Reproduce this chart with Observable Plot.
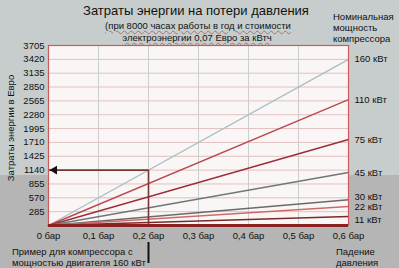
<!DOCTYPE html>
<html><head><meta charset="utf-8">
<script src="https://cdn.jsdelivr.net/npm/d3@7"></script>
<script src="https://cdn.jsdelivr.net/npm/@observablehq/plot@0.6"></script>
<style>
html,body{margin:0;padding:0;}
body{width:399px;height:268px;overflow:hidden;font-family:"Liberation Sans",Arial,sans-serif;}
#wrap{position:relative;width:399px;height:268px;background:linear-gradient(#c6cdcc 0,#c6cdcc 175px,#b5b5b5 175px);}
#wrap svg{position:absolute;left:0;top:0;}
.t{position:absolute;color:#111;white-space:nowrap;font-size:9.5px;line-height:11px;}
.w{text-decoration:underline wavy #b07070;text-decoration-thickness:1px;text-underline-offset:1px;}
</style>
</head><body>
<div id="wrap">
  <div class="t" style="left:0;width:392px;top:4px;text-align:center;font-size:13px;line-height:14px;">Затраты энергии на потери давления</div>
  <div class="t w" style="left:0;width:396px;top:20px;text-align:center;">(при 8000 часах работы в год и стоимости</div>
  <div class="t w" style="left:0;width:394px;top:32px;text-align:center;">электроэнергии 0,07 Евро за кВтч</div>
  <div class="t" style="left:333px;top:11px;">Номинальная<br>мощность<br>компрессора</div>
  <div class="t" style="left:10px;top:128px;transform:translate(-50%,-50%) rotate(-90deg);">Затраты энергии в Евро</div>
  <div class="t" style="left:12px;top:246px;">Пример для компрессора с<br>мощностью двигателя 160 кВт</div>
  <div class="t" style="left:336px;top:246px;">Падение<br>давления</div>
</div>
<script>
// Data
const powers = ["160 кВт", "110 кВт", "75 кВт", "45 кВт", "30 кВт", "22 кВт", "11 кВт"];
const costAtMaxDrop = [3420, 2590, 1770, 1090, 530, 390, 185];
const maxDrop = 0.6;
const xTicks = [0, 0.1, 0.2, 0.3, 0.4, 0.5, 0.6];
const yTicks = [285, 570, 855, 1140, 1425, 1710, 1995, 2280, 2565, 2850, 3135, 3420, 3705];
const exampleDrop = 0.2;
const exampleCost = 1140;
const lineColors = ["#a9bfc6", "#b84a4f", "#9a2f3a", "#6f7777", "#6a6a6a", "#d06a6a", "#7a2a2a"];

const rows = powers.flatMap((p, i) => [
  {power: p, drop: 0, cost: 0},
  {power: p, drop: maxDrop, cost: costAtMaxDrop[i]}
]);
const ends = powers.map((p, i) => ({power: p, drop: maxDrop, cost: costAtMaxDrop[i]}));
const upper = ends.filter(d => !["30 кВт", "11 кВт"].includes(d.power));
const e30 = ends.filter(d => d.power === "30 кВт");
const e11 = ends.filter(d => d.power === "11 кВт");
const fmtX = d => d === 0 ? "0 бар" : String(d).replace(".", ",") + " бар";

const chart = Plot.plot({
  width: 399, height: 268,
  marginLeft: 48, marginRight: 51, marginTop: 45, marginBottom: 43,
  style: {background: "transparent", fontFamily: "'Liberation Sans', Arial, sans-serif", fontSize: "9.5px", color: "#111"},
  x: {domain: [0, maxDrop]},
  y: {domain: [0, 3705]},
  color: {domain: powers, range: lineColors},
  marks: [
    Plot.frame({fill: "#fbf6f6"}),
    Plot.gridX(xTicks.slice(1, -1), {stroke: "#c9cfcf", strokeOpacity: 1}),
    Plot.gridY(yTicks, {stroke: "#e2c0c0", strokeOpacity: 1}),
    Plot.line(rows, {x: "drop", y: "cost", z: "power", stroke: "power", strokeWidth: 1.4}),
    Plot.ruleY([exampleCost], {x1: 0, x2: exampleDrop, stroke: "#7a3535", strokeWidth: 1.6}),
    Plot.ruleX([exampleDrop], {y1: 0, y2: exampleCost, stroke: "#7a3535", strokeWidth: 1.6}),
    Plot.dot([exampleCost], {x: 0, y: d => d, dx: 6, symbol: "triangle", rotate: -90, r: 3.2, fill: "#111", stroke: "none"}),
    Plot.frame({stroke: "#cc5a5a", strokeWidth: 1.2}),
    Plot.ruleY([0], {stroke: "#8a2222", strokeWidth: 3}),
    Plot.ruleX([exampleDrop], {y1: 0, y2: 0, insetTop: 17, insetBottom: -38, stroke: "#111", strokeWidth: 2}),
    Plot.text(upper, {x: "drop", y: "cost", text: "power", dx: 6, textAnchor: "start", fill: "#111"}),
    Plot.text(e30, {x: "drop", y: "cost", text: "power", dx: 6, dy: -3, textAnchor: "start", fill: "#111"}),
    Plot.text(e11, {x: "drop", y: "cost", text: "power", dx: 6, dy: 3, textAnchor: "start", fill: "#111"}),
    Plot.axisX(xTicks, {tickSize: 0, tickPadding: 7, tickFormat: fmtX, label: null}),
    Plot.axisY(yTicks, {tickSize: 0, tickPadding: 4, tickFormat: d => String(d), label: null})
  ]
});
document.getElementById("wrap").appendChild(chart);
</script>
</body></html>
